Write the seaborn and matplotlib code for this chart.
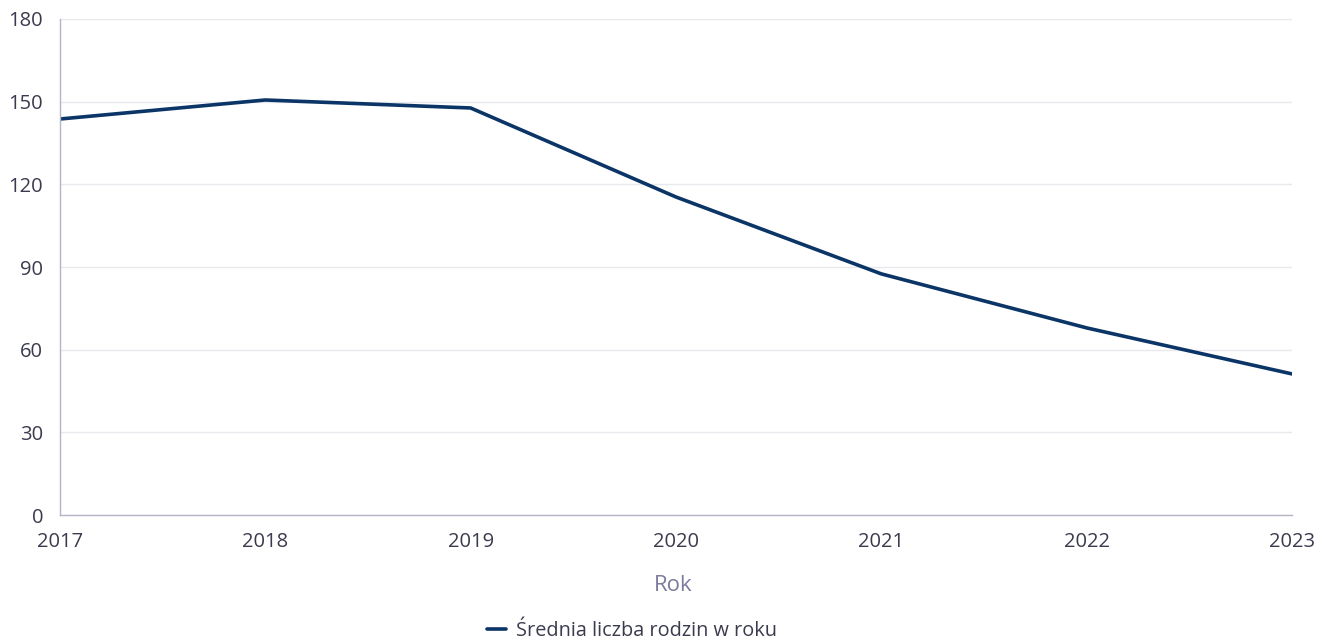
import pandas as pd
import matplotlib
matplotlib.use("Agg")
import matplotlib.pyplot as plt
import seaborn as sns

# Data
years = [2017, 2018, 2019, 2020, 2021, 2022, 2023]
avg_families = [143.7, 150.6, 147.7, 115.4, 87.5, 67.9, 51.2]
y_ticks = [0, 30, 60, 90, 120, 150, 180]

LINE_COLOR = "#0b3566"
TEXT_COLOR = "#3b3b4f"
AXIS_LABEL_COLOR = "#7b7b9e"
GRID_COLOR = "#e8e8ef"
SPINE_COLOR = "#b4b4c8"

sns.set_theme(style="white")
plt.rcParams["font.family"] = ["Open Sans", "DejaVu Sans"]

df = pd.DataFrame({"Rok": years, "Średnia liczba rodzin w roku": avg_families})

fig = plt.figure(figsize=(13.26, 6.43), dpi=100)
ax = fig.add_axes([0.0452, 0.199, 0.9292, 0.7715])

sns.lineplot(data=df, x="Rok", y="Średnia liczba rodzin w roku", ax=ax,
             color=LINE_COLOR, linewidth=2.6, label="Średnia liczba rodzin w roku")

ax.set_xlim(years[0], years[-1])
ax.set_ylim(0, 180)
ax.set_yticks(y_ticks)
ax.set_xticks(years)
ax.set_xticklabels([str(y) for y in years])
ax.yaxis.grid(True, color=GRID_COLOR, linewidth=1)
ax.set_axisbelow(True)

for side in ["top", "right"]:
    ax.spines[side].set_visible(False)
for side in ["left", "bottom"]:
    ax.spines[side].set_color(SPINE_COLOR)
    ax.spines[side].set_linewidth(1)

ax.tick_params(axis="both", length=0, labelsize=14.5, labelcolor=TEXT_COLOR)
ax.tick_params(axis="y", pad=12)
ax.tick_params(axis="x", pad=12)

ax.set_xlabel("Rok", fontsize=16, color=AXIS_LABEL_COLOR)
ax.xaxis.set_label_coords(0.4976, -0.12)
ax.set_ylabel("")

leg = ax.legend(loc="center", bbox_to_anchor=(632 / 1326, 0.018),
                bbox_transform=fig.transFigure, frameon=False,
                fontsize=14.3, handlelength=1.0, handletextpad=0.5)
for t in leg.get_texts():
    t.set_color(TEXT_COLOR)

fig.savefig("out.png", dpi=100)
plt.close(fig)
